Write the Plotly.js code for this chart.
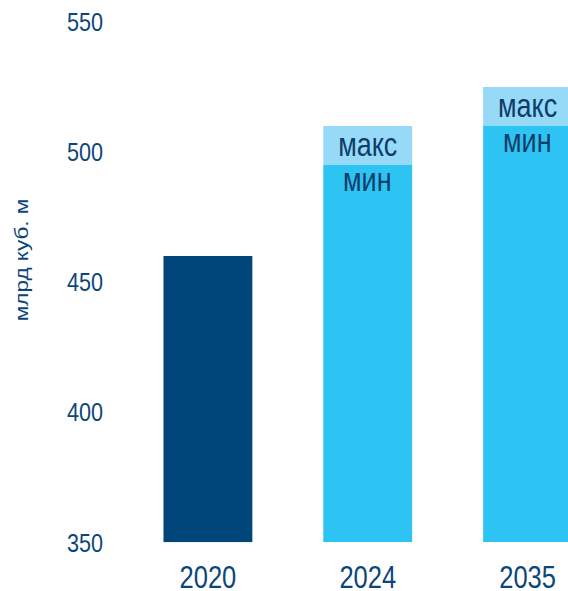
<!DOCTYPE html>
<html>
<head>
<meta charset="utf-8">
<script src="https://cdn.plot.ly/plotly-3.0.1.min.js"></script>
<style>
html,body{margin:0;padding:0;background:#fff;overflow:hidden;}
#wrap{width:568px;height:591px;overflow:hidden;}
#chart{width:568px;height:485px;transform:scaleY(1.2186);transform-origin:0 0;}
</style>
</head>
<body>
<div id="wrap"><div id="chart"></div></div>
<script>
var years = ['2020', '2024', '2035'];
var actualValues = [460, null, null];
var minValues = [null, 495, 510];
var maxValues = [null, 510, 525];
var minLabels = ['', 'мин', 'мин'];
var maxLabels = ['', 'макс', 'макс'];
var axisBase = 350;
var yTicks = [350, 400, 450, 500, 550];

var FONT = '"Liberation Sans", Arial, sans-serif';
var navy = '#0b4679';
var textNavy = '#0f3d69';

function minus(arr, b) {
  return arr.map(function (v, i) {
    if (v === null) return null;
    var bb = Array.isArray(b) ? b[i] : b;
    return v - bb;
  });
}

var barW = 0.556;

var traces = [
  {
    type: 'bar', x: years, y: minus(actualValues, axisBase), base: axisBase,
    width: barW, marker: {color: '#00467a'}, hoverinfo: 'skip', showlegend: false
  },
  {
    type: 'bar', x: years, y: minus(minValues, axisBase), base: axisBase,
    width: barW, marker: {color: '#2dc4f4'},
    hoverinfo: 'skip', showlegend: false
  },
  {
    type: 'bar', x: years, y: minus(maxValues, minValues), base: minValues,
    width: barW, marker: {color: '#96daf7'},
    text: maxLabels, textposition: 'inside', insidetextanchor: 'middle',
    constraintext: 'none', textangle: 0,
    insidetextfont: {family: FONT, size: 27, color: textNavy},
    hoverinfo: 'skip', showlegend: false
  }
];

var annotations = [{
  text: 'млрд куб. м', xref: 'paper', yref: 'paper',
  x: -0.243, y: 0.542, xanchor: 'center', yanchor: 'middle',
  textangle: -90, showarrow: false,
  font: {family: FONT, size: 18.5, color: navy}
}];

years.forEach(function (yr, i) {
  if (minValues[i] === null || !minLabels[i]) return;
  annotations.push({
    text: minLabels[i], xref: 'x', yref: 'y',
    x: i, y: minValues[i], xanchor: 'center', yanchor: 'top',
    yshift: 4, showarrow: false,
    font: {family: FONT, size: 27, color: textNavy}
  });
});

var layout = {
  width: 568, height: 485,
  margin: {l: 128, r: 0, t: 18, b: 40, pad: 0},
  paper_bgcolor: '#ffffff', plot_bgcolor: '#ffffff',
  barmode: 'overlay',
  showlegend: false,
  xaxis: {
    type: 'category', range: [-0.5, 2.253], fixedrange: true,
    showgrid: false, zeroline: false, showline: false, ticks: '',
    tickfont: {family: FONT, size: 25.5, color: navy},
    ticklabelstandoff: 11
  },
  yaxis: {
    range: [350, 550], tickvals: yTicks, ticktext: yTicks.map(String),
    showgrid: false, zeroline: false, showline: false, ticks: '',
    tickfont: {family: FONT, size: 21.6, color: navy},
    ticklabelstandoff: 24, fixedrange: true
  },
  annotations: annotations
};

Plotly.newPlot('chart', traces, layout, {displayModeBar: false, staticPlot: true});
</script>
</body>
</html>
